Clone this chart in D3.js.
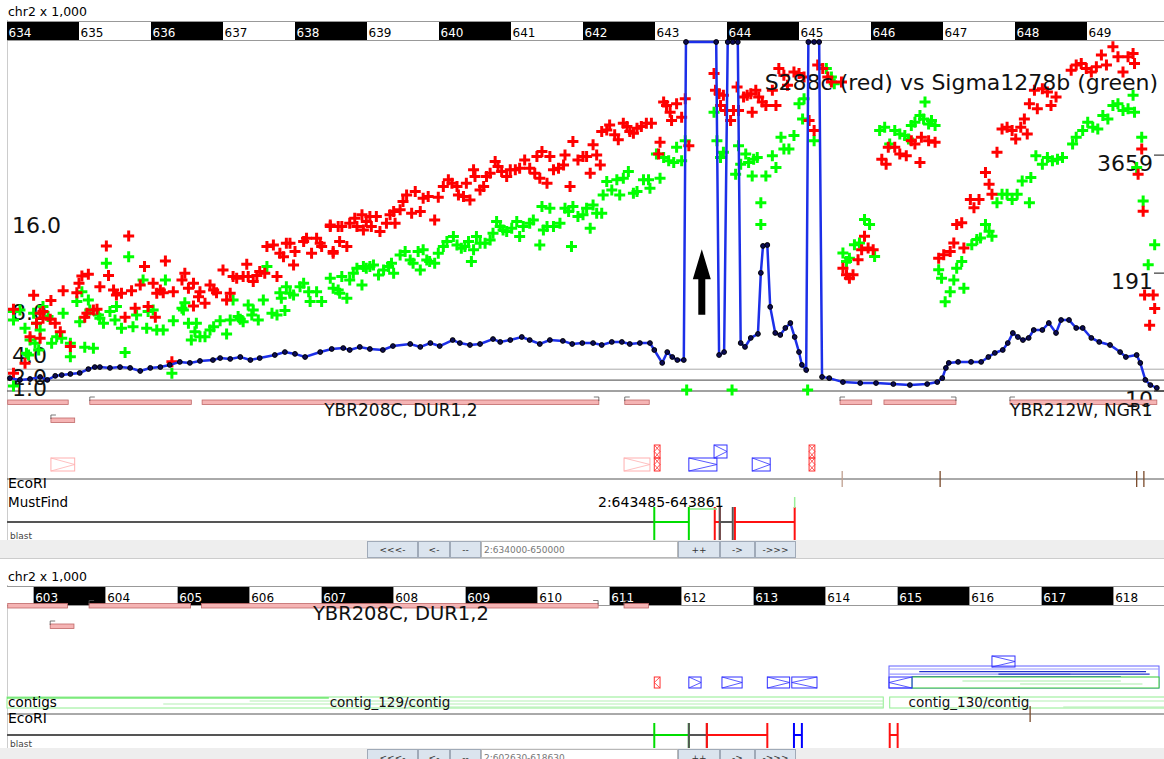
<!DOCTYPE html>
<html>
<head>
<meta charset="utf-8">
<script src="https://cdn.jsdelivr.net/npm/d3@7"></script>
<style>
body { margin: 0; background: #fff; }
svg { display: block; font-family: "DejaVu Sans", sans-serif; }
</style>
</head>
<body>
<svg id="svg" width="1164" height="759"></svg>
<script>
// ---- data (positions in kb on chr2) ----
const view1 = [634, 650];
const view2 = [602.63, 618.63];
const rulerTicks1 = [634, 635, 636, 637, 638, 639, 640, 641, 642, 643, 644, 645, 646, 647, 648, 649];
const rulerTicks2 = [602, 603, 604, 605, 606, 607, 608, 609, 610, 611, 612, 613, 614, 615, 616, 617, 618];
const rulerFirstBlack = [634, 603];
const navRanges = ['2:634000-650000', '2:602630-618630'];
const navLeft = ['<<<-', '<-', '--'];
const navRight = ['++', '->', '->>>'];

const leftTicks = [16, 8, 4, 2, 1];
const rightTicks = [3659, 191, 10];
const refLines = [2, 1, 0];
const title = 'S288c (red) vs Sigma1278b (green)';

// S288c ratio (red)
const redPts = [
[634.09,7.49],[634.37,8.78],[634.61,8.29],[634.78,9.20],[635.00,9.88],[635.04,10.55],[635.13,10.70],[635.38,13.30],[635.41,10.58],[635.69,14.22],
[635.91,11.41],[636.20,11.93],[636.03,9.88],[635.29,9.57],[635.48,9.27],[635.59,8.96],[635.73,9.20],[635.85,9.72],[636.08,8.96],[636.17,9.02],
[636.31,9.11],[636.43,10.18],[636.47,10.80],[636.52,9.42],[636.59,7.80],[636.68,9.11],[636.75,8.04],[636.82,9.72],[636.91,9.02],[637.00,11.10],
[637.10,8.96],[637.14,10.49],[637.33,11.62],[637.35,10.49],[637.47,10.58],[637.51,10.95],[637.61,13.24],[637.70,13.39],[637.84,12.32],[637.88,13.55],
[637.98,11.56],[638.00,12.78],[638.12,13.70],[638.16,14.01],[638.23,12.63],[638.30,14.01],[638.37,13.24],[638.49,15.23],[638.53,12.78],[638.60,15.08],
[634.46,7.13],[634.50,7.28],[634.41,6.21],[634.32,4.98],[634.46,4.83],[634.67,6.21],[634.74,5.44],[634.88,4.07],[634.25,2.54],[634.09,1.62],
[635.20,7.43],[635.08,6.76],[635.64,6.76],[635.78,7.58],[635.96,7.74],[636.06,6.76],[636.29,2.69],[637.58,10.80],[637.75,10.49],[637.19,10.34],
[637.42,10.03],[634.50,6.67],[634.60,6.57],[634.97,9.02],[635.11,7.13],[635.25,7.49],[635.52,8.81],[636.13,9.27],[636.59,9.88],[636.87,9.27],
[636.66,8.65],[637.05,8.35],[637.28,10.49],[637.79,12.63],[637.93,13.55],[638.35,13.55],
[638.49,15.08],[638.53,12.63],[638.62,13.70],[638.72,13.24],[638.65,15.08],[638.76,15.38],[638.83,15.84],[638.86,15.08],[638.93,16.15],[638.95,14.77],
[638.99,15.54],[639.04,15.99],[639.06,15.08],[639.13,15.99],[639.18,14.62],[639.27,15.38],[639.32,16.15],[639.37,16.45],[639.39,15.38],[639.46,16.61],
[639.50,17.37],[639.55,17.98],[639.62,16.30],[639.67,18.29],[639.74,16.45],[639.78,17.68],[639.85,17.83],[639.94,15.69],[639.99,17.77],[640.06,18.75],
[640.13,19.36],[640.18,19.05],[640.25,18.75],[640.27,17.98],[640.34,17.83],[640.38,19.05],[640.43,17.52],[640.48,20.28],[640.50,19.66],[640.57,18.44],
[640.62,18.75],[640.66,19.66],[640.71,19.97],[640.78,21.04],[640.82,20.58],[640.87,20.12],[640.94,19.66],[640.99,20.28],[641.06,20.28],[641.12,20.43],
[641.19,21.19],[641.26,20.43],[641.33,19.97],[641.36,21.50],[641.40,19.51],[641.43,21.96],[641.50,19.05],[641.54,21.50],[641.59,20.28],[641.66,20.43],
[641.73,20.73],[641.75,21.65],[641.82,18.75],[641.86,22.87],[641.93,21.19],[642.00,21.50],[642.05,21.50],[642.10,19.97],[642.14,22.57],[642.19,21.65],
[642.24,20.73],[642.26,23.79],[642.33,23.94],[642.37,24.40],[642.44,23.49],[642.49,23.03],[642.56,24.56],[642.61,24.25],[642.65,23.79],[642.70,23.64],
[642.75,24.10],[642.81,24.25],[642.88,24.56],[642.95,24.56],
[643.07,22.80],[643.05,21.72],[643.12,26.49],[643.16,26.18],[643.21,25.57],[643.23,24.80],[643.30,26.34],[643.37,25.11],[643.42,26.80],[643.47,22.49],
[643.82,29.11],[643.84,27.57],[643.89,27.26],[643.91,26.18],[643.95,27.11],[643.98,25.72],[644.05,24.80],[644.09,25.72],[644.14,27.88],[644.16,25.72],
[644.23,26.95],[644.28,27.11],[644.33,27.26],[644.35,25.57],[644.40,27.57],[644.44,26.95],[644.49,26.49],[644.54,26.18],[644.63,27.57],[644.68,26.18],
[644.72,29.57],[644.79,28.95],[644.84,28.03],[644.93,29.26],[645.00,29.11],[645.07,28.80],[645.14,24.80],[645.21,23.88],[645.26,29.88],[645.33,29.57],
[645.40,28.80],[645.45,28.34],[645.59,28.34],
[646.15,21.26],[646.21,20.80],[646.24,22.34],[646.33,22.34],[646.40,21.72],[646.49,21.57],[646.56,22.95],[646.61,22.65],[646.68,20.95],[646.70,23.26],
[646.80,22.95],[646.89,22.80],
[645.61,11.26],[645.66,10.65],[645.70,10.34],[645.75,10.65],[645.82,12.03],[645.87,12.95],[645.91,14.18],[645.96,13.11],[646.03,12.95],
[646.94,12.18],[647.01,12.49],[647.10,12.80],[647.15,13.57],[647.19,15.26],[647.26,15.42],[647.29,13.11],[647.38,17.57],[647.43,16.80],[647.50,17.57],
[647.59,20.03],[647.64,18.95],[647.68,18.03],[647.75,21.88],[647.82,24.03],[647.89,24.18],[647.96,23.88],[648.01,23.11],[648.08,24.18],[648.13,24.95],
[648.17,23.57],[648.20,26.34],[648.27,27.57],[648.31,25.88],[648.38,27.72],[648.45,27.42],[648.50,26.18],[648.57,26.95],[648.78,29.42],[648.85,29.88],
[648.92,30.03],[648.99,29.57],[649.06,29.26],[649.13,29.72],[649.20,30.80],[649.27,29.88],[649.36,31.57],[649.43,30.65],[649.50,29.26],[649.57,30.65],
[649.64,30.95],[649.66,30.03],[649.76,22.18],[649.71,19.88],[649.78,16.49],[649.80,8.80],[649.92,8.80],[649.87,6.03],[649.94,7.57]
];

// Sigma1278b ratio (green)
const greenPts = [
[634.09,6.51],[634.09,7.28],[634.18,7.43],[634.25,5.75],[634.32,4.68],[634.30,3.30],[634.37,7.13],[634.41,6.21],[634.46,5.60],[634.39,4.37],
[634.44,3.76],[634.50,7.74],[634.57,6.82],[634.62,4.37],[634.69,4.98],[634.76,4.83],[634.78,7.13],[634.88,4.37],[634.88,3.15],[635.01,6.36],
[635.04,9.11],[634.97,8.20],[635.13,8.35],[635.15,7.43],[635.08,4.01],[635.20,3.91],[635.27,6.97],[635.29,6.67],[635.34,6.21],[635.38,11.71],
[635.43,7.28],[635.50,6.51],[635.52,7.74],[635.59,5.75],[635.64,3.52],[635.69,12.32],[635.75,5.90],[635.80,6.97],[635.89,10.18],[635.94,5.75],
[635.96,7.28],[636.03,7.43],[636.08,5.60],[636.17,5.60],[636.20,10.18],[636.31,6.45],[636.43,7.58],[636.47,8.10],[636.52,6.21],[636.56,4.68],
[636.63,6.21],[636.68,4.98],[636.75,4.98],[636.82,5.60],[636.87,5.90],[636.96,6.45],[637.05,5.23],[637.10,6.51],[637.14,8.35],[637.21,6.82],
[637.28,6.36],[637.35,7.89],[637.42,7.43],[637.49,6.51],[637.56,8.35],[637.61,11.41],[637.68,7.13],[637.75,6.97],[637.79,9.02],[637.81,8.50],
[637.88,9.57],[637.93,8.96],[637.98,8.81],[638.07,9.57],[638.12,9.88],[638.19,9.11],[638.21,8.20],[638.30,9.11],[638.37,8.20],[638.49,10.34],
[638.53,9.42],[638.60,9.27],[634.09,0.46],[634.27,3.46],[636.29,1.62],[636.45,7.43],[636.61,5.44],[637.24,6.57],[637.40,6.97],[637.86,7.37],
[638.62,8.96],[638.72,8.50],[638.65,10.49],[638.76,10.18],[638.81,10.80],[638.86,11.25],[638.93,9.72],[638.95,11.41],[638.99,11.25],[639.04,11.41],
[639.09,11.56],[639.16,10.64],[639.23,11.10],[639.30,11.41],[639.34,11.71],[639.37,10.80],[639.46,12.48],[639.53,12.78],[639.60,12.02],[639.64,11.71],
[639.71,12.78],[639.74,11.10],[639.78,12.94],[639.83,12.02],[639.87,11.87],[639.94,11.71],[639.99,12.63],[640.06,13.24],[640.11,13.70],[640.20,14.16],
[640.25,13.39],[640.31,13.09],[640.36,13.24],[640.41,13.70],[640.45,11.87],[640.48,12.94],[640.52,14.16],[640.57,13.55],[640.64,13.55],[640.71,13.85],
[640.75,14.46],[640.80,15.54],[640.85,15.08],[640.89,14.77],[640.94,14.62],[641.01,14.92],[641.08,15.54],[641.12,14.16],[641.17,15.08],[641.26,15.38],
[641.31,15.69],[641.40,13.39],[641.43,16.91],[641.45,14.77],[641.50,15.08],[641.54,16.76],[641.59,15.08],[641.68,15.38],[641.75,16.76],[641.80,16.45],
[641.84,13.24],[641.86,16.91],[641.93,15.99],[642.00,16.15],[642.05,16.76],[642.10,14.92],[642.14,17.06],[642.19,16.30],[642.26,16.30],[642.28,17.98],
[642.33,19.20],[642.40,18.44],[642.47,19.36],[642.51,17.98],[642.56,19.51],[642.63,20.12],[642.70,18.13],[642.75,18.29],[642.84,19.36],[642.91,19.36],
[642.93,18.59],[643.07,19.51],
[643.02,21.72],[643.12,21.42],[643.19,21.11],[643.26,20.95],[643.30,22.34],[643.37,21.11],[643.42,22.95],[643.44,0.10],[644.07,0.10],[645.12,0.10],
[643.82,25.57],[643.86,22.95],[643.91,21.42],[643.95,21.88],[644.12,19.88],[644.16,22.49],[644.19,20.80],[644.26,21.72],[644.30,20.95],[644.37,21.26],
[644.35,19.72],[644.42,21.42],[644.54,19.72],[644.63,21.57],[644.68,20.49],[644.75,23.26],[644.79,22.18],[644.86,22.18],[644.93,23.42],[645.00,26.34],
[645.05,24.95],[645.07,26.80],[645.21,22.95],[645.38,29.57],[645.45,28.80],[645.49,28.18],[644.47,17.26],[644.47,15.26],
[646.12,23.88],[646.19,24.18],[646.26,22.65],[646.33,23.88],[646.40,23.57],[646.47,23.42],[646.52,23.11],[646.56,24.34],[646.61,24.65],[646.68,25.26],
[646.75,26.49],[646.73,24.95],[646.80,24.49],[646.84,24.80],[646.89,24.34],
[645.61,12.65],[645.66,11.88],[645.70,12.18],[645.77,13.42],[645.84,13.57],[645.91,15.72],[645.98,15.26],[646.05,12.34],
[646.94,11.11],[646.98,10.34],[647.03,8.18],[647.10,9.11],[647.15,10.18],[647.19,11.26],[647.26,11.88],[647.29,9.42],[647.40,13.42],[647.47,13.88],
[647.52,14.03],[647.59,15.26],[647.64,14.65],[647.68,14.18],[647.75,17.26],[647.82,18.03],[647.89,18.03],[647.96,17.57],[648.03,18.03],[648.10,19.26],
[648.20,17.26],[648.22,19.57],[648.29,21.57],[648.38,20.80],[648.45,21.42],[648.52,21.11],[648.59,21.26],[648.66,21.42],[648.80,22.65],[648.85,23.26],
[648.94,23.88],[649.01,24.65],[649.08,24.18],[649.15,24.03],[649.22,25.26],[649.29,24.95],[649.36,26.18],[649.43,26.34],[649.50,25.72],[649.57,25.88],
[649.64,27.11],[649.66,25.57],[649.76,23.26],[649.78,17.42],[649.94,13.42],[649.85,11.57],[649.69,20.49]
];

// read coverage (blue line, log scale on the right)
const coverage = [
[634.04,13.8],[634.18,13.2],[634.32,13.5],[634.46,14.2],[634.56,13.2],[634.67,14.6],[634.76,14.9],[634.88,15.3],[635.01,15.7],[635.13,17.3],
[635.22,18.2],[635.29,18.2],[635.43,17.8],[635.57,18.2],[635.71,17.8],[635.85,16.5],[635.99,17.8],[636.13,18.2],[636.26,19.2],[636.40,20.7],
[636.54,20.2],[636.68,21.2],[636.86,21.7],[636.96,22.8],[637.10,22.3],[637.24,23.4],[637.38,21.7],[637.51,22.8],[637.72,24.6],[637.86,26.5],
[638.00,25.3],[638.14,23.4],[638.35,26.5],[638.51,28.6],[638.67,29.3],[638.76,27.9],[638.90,30.1],[639.04,28.6],[639.22,27.9],[639.36,30.8],
[639.60,32.4],[639.74,30.1],[639.88,33.2],[640.01,30.8],[640.19,35.8],[640.29,33.2],[640.43,31.6],[640.57,32.4],[640.75,36.7],[640.85,34.1],
[640.99,35.8],[641.15,38.6],[641.26,35.8],[641.40,32.4],[641.54,35.8],[641.72,35.0],[641.85,32.4],[641.99,33.2],[642.14,33.2],[642.26,31.6],
[642.40,34.1],[642.54,34.1],[642.65,32.4],[642.79,33.2],[642.93,33.2],[642.99,27.9],[643.10,20.2],[643.17,26.5],[643.24,23.4],[643.31,21.7],
[643.40,21.7],[643.43,62000],[643.85,62000],[643.89,24.6],[643.96,26.5],[644.01,62000],[644.08,62000],[644.15,62000],[644.19,33.2],[644.25,30.1],
[644.33,37.7],[644.43,41.7],[644.47,192],[644.50,377],[644.56,386],[644.60,82],[644.67,42.7],[644.74,40.6],[644.81,48.4],[644.88,54.8],
[644.94,38.6],[645.00,26.5],[645.04,19.2],[645.10,16.9],[645.13,62000],[645.21,62000],[645.28,62000],[645.32,14.2],[645.42,13.8],[645.61,12.5],
[645.85,12.2],[646.07,12.2],[646.31,11.9],[646.54,11.6],[646.78,11.9],[646.92,12.5],[646.99,13.8],[647.04,17.8],[647.08,20.2],[647.21,20.7],
[647.39,20.7],[647.53,20.7],[647.63,23.4],[647.72,25.9],[647.83,27.9],[647.90,33.2],[647.97,42.7],[648.04,38.6],[648.11,35.8],[648.19,37.7],
[648.26,46.0],[648.38,46.0],[648.47,54.8],[648.57,42.7],[648.64,59.1],[648.75,59.1],[648.85,48.4],[648.94,48.4],[649.06,37.7],[649.17,34.1],
[649.32,31.6],[649.46,26.5],[649.54,23.4],[649.69,24.6],[649.74,20.2],[649.81,13.2],[649.88,11.6],[649.97,10.8]
];

const arrows = [{pos: 643.65, from: 7.0, to: 13.0}];

// genes: row 0 = main lane, row 1 = second lane; strand gives the tick end
const genes1 = [
  {start: 634.01, end: 634.85, row: 0, strand: ''},
  {start: 635.15, end: 636.56, row: 0, strand: '-'},
  {start: 636.71, end: 642.22, row: 0, strand: '+'},
  {start: 642.58, end: 642.92, row: 0, strand: '-'},
  {start: 634.61, end: 634.94, row: 1, strand: '-'},
  {start: 645.57, end: 646.01, row: 0, strand: '-'},
  {start: 646.18, end: 647.18, row: 0, strand: '+'},
  {start: 647.93, end: 649.97, row: 0, strand: '-'}
];
const geneLabels1 = [{text: 'YBR208C, DUR1,2', pos: 639.47}, {text: 'YBR212W, NGR1', pos: 648.92}];
const genes2 = [
  {start: 602.64, end: 603.47, row: 0, strand: ''},
  {start: 603.77, end: 605.18, row: 0, strand: '-'},
  {start: 605.33, end: 610.84, row: 0, strand: '+'},
  {start: 611.20, end: 611.54, row: 0, strand: '-'},
  {start: 603.23, end: 603.56, row: 1, strand: '-'}
];
const geneLabels2 = [{text: 'YBR208C, DUR1,2', pos: 608.10}];

// features (kind: faint / red / blue), lane index, arrow direction
const feats1 = [
  {start: 634.61, end: 634.94, lane: 1, dir: '>', kind: 'faint'},
  {start: 642.57, end: 642.93, lane: 1, dir: '>', kind: 'faint'},
  {start: 642.99, end: 643.07, lane: 0, dir: 'x', kind: 'red'},
  {start: 642.99, end: 643.07, lane: 1, dir: 'x', kind: 'red'},
  {start: 643.47, end: 643.86, lane: 1, dir: '>', kind: 'blue'},
  {start: 643.82, end: 644.00, lane: 0, dir: '>', kind: 'blue'},
  {start: 644.35, end: 644.60, lane: 1, dir: '>', kind: 'blue'},
  {start: 645.14, end: 645.22, lane: 0, dir: 'x', kind: 'red'},
  {start: 645.14, end: 645.22, lane: 1, dir: 'x', kind: 'red'}
];
const feats2 = [
  {start: 611.62, end: 611.70, lane: 2, dir: '<', kind: 'red'},
  {start: 612.10, end: 612.27, lane: 2, dir: '>', kind: 'blue'},
  {start: 612.56, end: 612.84, lane: 2, dir: '>', kind: 'blue'},
  {start: 613.19, end: 613.50, lane: 2, dir: '>', kind: 'blue'},
  {start: 613.53, end: 613.88, lane: 2, dir: '<', kind: 'blue'},
  {start: 614.88, end: 615.20, lane: 2, dir: '<', kind: 'blue'},
  {start: 616.31, end: 616.63, lane: 0, dir: '>', kind: 'blue'}
];
const blueBlock2 = {start: 614.88, end: 618.63};
const blueReads2 = [
  {start: 614.88, end: 618.63, level: 0, kind: 'light'},
  {start: 615.30, end: 618.45, level: 1, kind: 'dark'},
  {start: 614.88, end: 617.40, level: 2, kind: 'light'},
  {start: 616.40, end: 618.50, level: 2, kind: 'dark'},
  {start: 615.20, end: 618.10, level: 3, kind: 'dark'}
];
const greenBox2 = {start: 615.20, end: 618.63};
const greenReads2 = [
  {start: 615.90, end: 618.10, level: 0},
  {start: 616.70, end: 618.40, level: 1}
];

const contigs2 = [
  {name: 'contig_129/contig', start: 602.63, end: 614.80, label: 607.95},
  {name: 'contig_130/contig', start: 614.89, end: 618.72, label: 615.99}
];
const contigReads2 = [
  {start: 602.63, end: 607.10, level: 0},
  {start: 606.00, end: 614.80, level: 1},
  {start: 604.80, end: 614.80, level: 2},
  {start: 608.20, end: 614.80, level: 3},
  {start: 616.10, end: 618.72, level: 1},
  {start: 617.30, end: 618.72, level: 3}
];

const ecoRI1 = [645.60, 646.96, 649.69, 649.79];
const ecoRI2 = [616.84];

// hits: [start, end, kind]; first is the plain backbone
const must1 = [[634.00, 642.99, 'gray'], [642.99, 643.47, 'green'], [643.83, 643.90, 'red'], [643.90, 644.08, 'gray'], [644.11, 644.94, 'red']];
const mustRange1 = {text: '2:643485-643861', start: 643.485, end: 643.861};
const mustMark1 = [644.94];
const blast2 = [[602.63, 611.62, 'gray'], [611.62, 612.10, 'green'], [612.10, 612.35, 'gray'], [612.35, 613.19, 'red'], [613.56, 613.67, 'blue'], [614.89, 615.00, 'red']];

// ---- drawing ----
const W = 1164;
const svg = d3.select('#svg');
const x1 = d3.scaleLinear().domain(view1).range([7, 1159]);
const x2 = d3.scaleLinear().domain(view2).range([7, 1159]);
const yL = d3.scaleLinear().domain([0, 32]).range([391, 42]);
const yR = d3.scaleLog().domain([10, 62000]).range([391, 42]).clamp(true);

const hitColor = {gray: '#555', green: '#00dd00', red: '#ff1010', blue: '#0000ff'};
const featColor = {faint: '#ffb0b0', red: '#ff3030', blue: '#3030ff'};

// left frame lines
svg.append('line').attr('x1', 7.5).attr('x2', 7.5).attr('y1', 20).attr('y2', 540).attr('stroke', '#ccc');
svg.append('line').attr('x1', 7.5).attr('x2', 7.5).attr('y1', 585).attr('y2', 759).attr('stroke', '#ccc');

function drawRuler(x, top, ticks, firstBlack) {
  const g = svg.append('g');
  g.append('text').attr('x', 8).attr('y', top - 6).attr('font-size', 12.5).text('chr2 x 1,000');
  g.append('rect').attr('x', 7).attr('y', top).attr('width', W - 7).attr('height', 18).attr('fill', '#fff');
  ticks.forEach(k => {
    const a = Math.max(x(k), 7), b = Math.min(x(k + 1), W);
    const black = Math.abs(k - firstBlack) % 2 === 0;
    g.append('rect').attr('x', a).attr('y', top).attr('width', b - a).attr('height', 18)
      .attr('fill', black ? '#000' : '#fff');
    if (x(k) >= 7) {
      g.append('text').attr('x', x(k) + 1.5).attr('y', top + 15).attr('font-size', 12)
        .attr('fill', black ? '#fff' : '#000').text(k);
    }
  });
  g.append('line').attr('x1', 7).attr('x2', W).attr('y1', top - 0.5).attr('y2', top - 0.5).attr('stroke', '#999');
  g.append('line').attr('x1', 7).attr('x2', W).attr('y1', top + 18.5).attr('y2', top + 18.5).attr('stroke', '#999');
}

function drawGenes(x, genes, labels, rowY, labelY, labelSize) {
  const g = svg.append('g');
  genes.forEach(d => {
    const a = x(d.start), b = x(d.end), y = rowY[d.row];
    g.append('rect').attr('x', a).attr('y', y).attr('width', b - a).attr('height', 4.5)
      .attr('fill', '#f5b4b4').attr('stroke', '#c06868').attr('stroke-width', 0.8);
    if (d.strand === '-') {
      g.append('path').attr('d', `M${a},${y + 1}V${y - 3}H${a + 5}`).attr('fill', 'none').attr('stroke', '#555').attr('stroke-width', 0.8);
    } else if (d.strand === '+') {
      g.append('path').attr('d', `M${b},${y + 1}V${y - 3}H${b - 5}`).attr('fill', 'none').attr('stroke', '#555').attr('stroke-width', 0.8);
    }
  });
  labels.forEach(l => {
    g.append('text').attr('x', x(l.pos)).attr('y', labelY).attr('text-anchor', 'middle')
      .attr('font-size', labelSize).attr('fill', '#111').text(l.text);
  });
}

function featBox(g, a, b, y0, y1, dir, color) {
  const ym = (y0 + y1) / 2;
  g.append('rect').attr('x', a).attr('y', y0).attr('width', b - a).attr('height', y1 - y0)
    .attr('fill', 'none').attr('stroke', color);
  let d = '';
  if (dir === '>' || dir === 'x') d += `M${a},${y0}L${b},${ym}L${a},${y1}`;
  if (dir === '<' || dir === 'x') d += `M${b},${y0}L${a},${ym}L${b},${y1}`;
  g.append('path').attr('d', d).attr('fill', 'none').attr('stroke', color).attr('stroke-width', 0.8);
}

function drawFeats(x, feats, laneY, laneH) {
  const g = svg.append('g');
  feats.forEach(f => featBox(g, x(f.start), x(f.end), laneY[f.lane], laneY[f.lane] + laneH, f.dir, featColor[f.kind]));
  return g;
}

function drawEco(x, y, sites) {
  const g = svg.append('g');
  g.append('line').attr('x1', 7).attr('x2', W).attr('y1', y).attr('y2', y).attr('stroke', '#555');
  g.append('text').attr('x', 8).attr('y', y + 9).attr('font-size', 14).text('EcoRI');
  sites.forEach((s, i) => {
    g.append('line').attr('x1', x(s)).attr('x2', x(s)).attr('y1', y - 8).attr('y2', y + 8)
      .attr('stroke', i === 0 && sites.length > 1 ? '#c0a090' : '#7a4a2a').attr('stroke-width', 1.3);
  });
}

function drawHits(x, hits, y, top, bottom) {
  const g = svg.append('g');
  hits.forEach((h, i) => {
    const c = hitColor[h[2]];
    g.append('line').attr('x1', x(h[0])).attr('x2', x(h[1])).attr('y1', y).attr('y2', y)
      .attr('stroke', c).attr('stroke-width', 2);
    if (i > 0) {
      [h[0], h[1]].forEach(p => {
        g.append('line').attr('x1', x(p)).attr('x2', x(p)).attr('y1', top).attr('y2', bottom)
          .attr('stroke', c).attr('stroke-width', 2);
      });
    }
  });
  return g;
}

function drawNav(top, rangeText) {
  const g = svg.append('g');
  g.append('rect').attr('x', 0).attr('y', top).attr('width', W).attr('height', 18).attr('fill', '#eeeeee');
  g.append('line').attr('x1', 0).attr('x2', W).attr('y1', top + 18.5).attr('y2', top + 18.5).attr('stroke', '#ccc');
  const widthsL = [51, 32, 31], widthsR = [42, 35, 41];
  let bx = 367;
  const button = (label, w) => {
    g.append('rect').attr('x', bx + 0.5).attr('y', top + 1.5).attr('width', w - 1).attr('height', 16)
      .attr('fill', '#dbe4ee').attr('stroke', '#a0aab8');
    g.append('text').attr('x', bx + w / 2).attr('y', top + 13).attr('text-anchor', 'middle')
      .attr('font-size', 9).attr('fill', '#333').text(label);
    bx += w;
  };
  navLeft.forEach((l, i) => button(l, widthsL[i]));
  g.append('rect').attr('x', bx + 0.5).attr('y', top + 1.5).attr('width', 196).attr('height', 16)
    .attr('fill', '#fff').attr('stroke', '#b8b8b8');
  g.append('text').attr('x', bx + 3).attr('y', top + 12.5).attr('font-size', 9).attr('fill', '#777').text(rangeText);
  bx += 197;
  navRight.forEach((l, i) => button(l, widthsR[i]));
}

// ===== panel 1 =====
drawRuler(x1, 22, rulerTicks1, rulerFirstBlack[0]);

const plot = svg.append('g');
refLines.forEach((v, i) => {
  plot.append('line').attr('x1', 7).attr('x2', W).attr('y1', yL(v)).attr('y2', yL(v))
    .attr('stroke', i === 0 ? '#aaa' : '#444');
});
leftTicks.forEach(v => {
  plot.append('text').attr('x', 12).attr('y', yL(v) + 16).attr('font-size', 22).attr('fill', '#111').text(v.toFixed(1));
});
rightTicks.forEach(v => {
  plot.append('text').attr('x', 1153).attr('y', yR(v) + 16).attr('text-anchor', 'end')
    .attr('font-size', 22).attr('fill', '#111').text(v);
  plot.append('line').attr('x1', 1154).attr('x2', W).attr('y1', yR(v)).attr('y2', yR(v)).attr('stroke', '#111');
});

function plusMarks(pts, color) {
  plot.append('g').selectAll('path').data(pts).enter().append('path')
    .attr('d', d => `M${x1(d[0]) - 5.5},${yL(d[1])}h11M${x1(d[0])},${yL(d[1]) - 5.5}v11`)
    .attr('stroke', color).attr('stroke-width', 3).attr('fill', 'none');
}
plusMarks(greenPts, '#00ff00');
plusMarks(redPts, '#ff0000');

plot.append('text').attr('x', 1158).attr('y', 90).attr('text-anchor', 'end')
  .attr('font-size', 22).attr('fill', '#111').text(title);

const covLine = d3.line().x(d => x1(d[0])).y(d => yR(d[1]));
plot.append('path').datum(coverage).attr('d', covLine).attr('fill', 'none')
  .attr('stroke', '#1c2fe8').attr('stroke-width', 2.5);
plot.append('g').selectAll('circle').data(coverage).enter().append('circle')
  .attr('cx', d => x1(d[0])).attr('cy', d => yR(d[1])).attr('r', 2.4)
  .attr('fill', '#0b0b55').attr('stroke', '#000').attr('stroke-width', 1);

arrows.forEach(a => {
  const ax = x1(a.pos), yb = yL(a.from), yt = yL(a.to);
  plot.append('path')
    .attr('d', `M${ax - 3.5},${yb}V${yt + 30}H${ax - 9}L${ax},${yt}L${ax + 9},${yt + 30}H${ax + 3.5}V${yb}Z`)
    .attr('fill', '#000');
});

drawGenes(x1, genes1, geneLabels1, [400, 418], 416, 17);
drawFeats(x1, feats1, [445, 458], 13);
drawEco(x1, 479, ecoRI1);

svg.append('text').attr('x', 8).attr('y', 507).attr('font-size', 13.5).text('MustFind');
svg.append('text').attr('x', 598).attr('y', 507).attr('font-size', 14).text(mustRange1.text);
const mustG = drawHits(x1, must1, 522, 507, 540);
mustG.append('line').attr('x1', x1(mustRange1.start)).attr('x2', x1(mustRange1.end)).attr('y1', 509).attr('y2', 509)
  .attr('stroke', '#88ee88').attr('stroke-width', 1.5);
mustMark1.forEach(p => {
  mustG.append('line').attr('x1', x1(p)).attr('x2', x1(p)).attr('y1', 497).attr('y2', 508)
    .attr('stroke', '#99ee99').attr('stroke-width', 1.5);
});
svg.append('text').attr('x', 10).attr('y', 539).attr('font-size', 9).attr('fill', '#444').text('blast');
drawNav(540, navRanges[0]);

// ===== panel 2 =====
drawRuler(x2, 587, rulerTicks2, rulerFirstBlack[1]);
drawGenes(x2, genes2, geneLabels2, [603.5, 624], 620, 19.5);

const f2 = svg.append('g');
const bbA = x2(blueBlock2.start), bbB = x2(blueBlock2.end);
f2.append('rect').attr('x', bbA).attr('y', 666).attr('width', bbB - bbA).attr('height', 22)
  .attr('fill', 'none').attr('stroke', '#6060ff');
blueReads2.forEach(r => {
  f2.append('line').attr('x1', x2(r.start)).attr('x2', x2(r.end)).attr('y1', 669 + r.level * 2.6).attr('y2', 669 + r.level * 2.6)
    .attr('stroke', r.kind === 'dark' ? '#2233cc' : '#9999ff').attr('stroke-width', 1.2);
});
const gbA = x2(greenBox2.start), gbB = x2(greenBox2.end);
f2.append('rect').attr('x', gbA).attr('y', 677).attr('width', gbB - gbA).attr('height', 11)
  .attr('fill', '#fff').attr('stroke', '#33cc33');
greenReads2.forEach(r => {
  f2.append('line').attr('x1', x2(r.start)).attr('x2', x2(r.end)).attr('y1', 681 + r.level * 3).attr('y2', 681 + r.level * 3)
    .attr('stroke', '#aaeeaa').attr('stroke-width', 1.2);
});
drawFeats(x2, feats2, [656, 666, 677], 11);

// contigs
const cg = svg.append('g');
contigs2.forEach(c => {
  cg.append('rect').attr('x', x2(c.start)).attr('y', 697).attr('width', x2(c.end) - x2(c.start)).attr('height', 11)
    .attr('fill', '#fff').attr('stroke', '#90ee90');
});
contigReads2.forEach(r => {
  cg.append('line').attr('x1', x2(r.start)).attr('x2', x2(r.end)).attr('y1', 698 + r.level * 3).attr('y2', 698 + r.level * 3)
    .attr('stroke', r.level === 0 ? '#33dd33' : '#b4f0b4').attr('stroke-width', 1.2);
});
contigs2.forEach(c => {
  cg.append('text').attr('x', x2(c.label)).attr('y', 707).attr('text-anchor', 'middle')
    .attr('font-size', 13.5).attr('fill', '#111').text(c.name);
});
cg.append('text').attr('x', 8).attr('y', 707).attr('font-size', 13.5).text('contigs');

drawEco(x2, 714, ecoRI2);
drawHits(x2, blast2, 735, 723, 749);
svg.append('text').attr('x', 10).attr('y', 747).attr('font-size', 9).attr('fill', '#444').text('blast');
drawNav(748, navRanges[1]);
</script>
</body>
</html>
